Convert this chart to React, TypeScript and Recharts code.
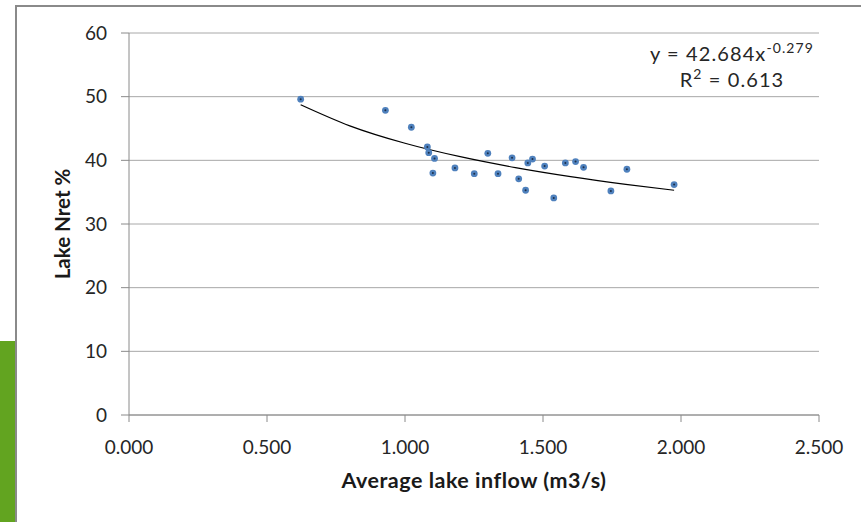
import { ScatterChart, Scatter, XAxis, YAxis, CartesianGrid } from 'recharts';

// Observed points: average lake inflow (m3/s) vs lake N retention (%)
const inflow = [
  0.622, 0.929, 1.023, 1.081, 1.086, 1.107, 1.101, 1.181, 1.251, 1.300, 1.337, 1.388,
  1.445, 1.462, 1.412, 1.437, 1.506, 1.539, 1.581, 1.618, 1.647, 1.746, 1.804, 1.975,
];
const nret = [
  49.6, 47.85, 45.2, 42.1, 41.2, 40.3, 38.0, 38.8, 37.9, 41.1, 37.9, 40.4,
  39.6, 40.2, 37.1, 35.3, 39.1, 34.1, 39.6, 39.8, 38.9, 35.2, 38.6, 36.2,
];

// Power trendline (y = 42.684x^-0.279)
const trendX = [0.622, 0.8, 1.0, 1.2, 1.4, 1.6, 1.8, 1.975];
const trendY = [48.73, 45.42, 42.68, 40.57, 38.86, 37.44, 36.23, 35.3];

const xTicks = [0, 0.5, 1, 1.5, 2, 2.5];
const yTicks = [0, 10, 20, 30, 40, 50, 60];

const points = inflow.map((x, i) => ({ x, y: nret[i] }));
const trend = trendX.map((x, i) => ({ x, y: trendY[i] }));

const FONT = 'Lato, "Open Sans", sans-serif';

const Marker = (props: any) => {
  const { cx, cy } = props;
  return (
    <g>
      <circle cx={cx} cy={cy} r={3.4} fill="#4f81bd" />
      <circle cx={cx} cy={cy} r={1} fill="#1c2f4a" />
    </g>
  );
};

const NoMarker = () => <g />;

export default function App() {
  return (
    <div style={{ position: 'absolute', left: 0, top: 0, width: 861, height: 522, overflow: 'hidden', background: '#fff', fontFamily: FONT }}>
      {/* green side strip */}
      <div style={{ position: 'absolute', left: 0, top: 341, width: 15, height: 181, background: '#62a420' }} />
      {/* chart frame */}
      <div style={{ position: 'absolute', left: 15, top: 5, width: 900, height: 600, borderTop: '2px solid #8a8a8a', borderLeft: '2px solid #8a8a8a' }} />

      <div style={{ position: 'absolute', left: 0, top: 0 }}>
        <ScatterChart width={861} height={522} margin={{ top: 33, right: 42, bottom: 67, left: 50 }}>
          <CartesianGrid vertical={false} stroke="#a8a8a8" strokeWidth={1} />
          <XAxis
            type="number"
            dataKey="x"
            domain={[0, 2.5]}
            ticks={xTicks}
            tickFormatter={(v: number) => v.toFixed(3)}
            height={40}
            tickSize={7}
            tickMargin={19}
            axisLine={{ stroke: '#8a8a8a' }}
            tickLine={{ stroke: '#8a8a8a' }}
            tick={{ fill: '#262626', fontSize: 19, fontFamily: FONT }}
            label={{
              value: 'Average lake inflow (m3/s)',
              position: 'bottom',
              offset: 18,
              style: { fill: '#1a1a1a', fontSize: 21.5, fontWeight: 'bold', fontFamily: FONT, letterSpacing: 0.5 },
            }}
          />
          <YAxis
            type="number"
            dataKey="y"
            domain={[0, 60]}
            ticks={yTicks}
            width={79}
            tickSize={8}
            tickMargin={14}
            axisLine={{ stroke: '#8a8a8a' }}
            tickLine={{ stroke: '#8a8a8a' }}
            tick={{ fill: '#262626', fontSize: 19, fontFamily: FONT }}
            label={{
              value: 'Lake Nret %',
              angle: -90,
              position: 'insideLeft',
              offset: 13,
              style: { textAnchor: 'middle', fill: '#1a1a1a', fontSize: 20.5, fontWeight: 'bold', fontFamily: FONT },
            }}
          />
          <Scatter
            data={trend}
            line={{ stroke: '#000', strokeWidth: 1.2 }}
            lineJointType="monotoneX"
            shape={NoMarker}
            isAnimationActive={false}
          />
          <Scatter data={points} shape={Marker} isAnimationActive={false} />
        </ScatterChart>
      </div>

      {/* trendline equation */}
      <div style={{ position: 'absolute', left: 632, top: 40, width: 200, textAlign: 'center', fontSize: 20, lineHeight: '26px', color: '#262626', letterSpacing: 1.1 }}>
        <div>
          y = 42.684x<sup style={{ fontSize: 14, lineHeight: 0 }}>-0.279</sup>
        </div>
        <div>
          R<sup style={{ fontSize: 14, lineHeight: 0 }}>2</sup> = 0.613
        </div>
      </div>
    </div>
  );
}
